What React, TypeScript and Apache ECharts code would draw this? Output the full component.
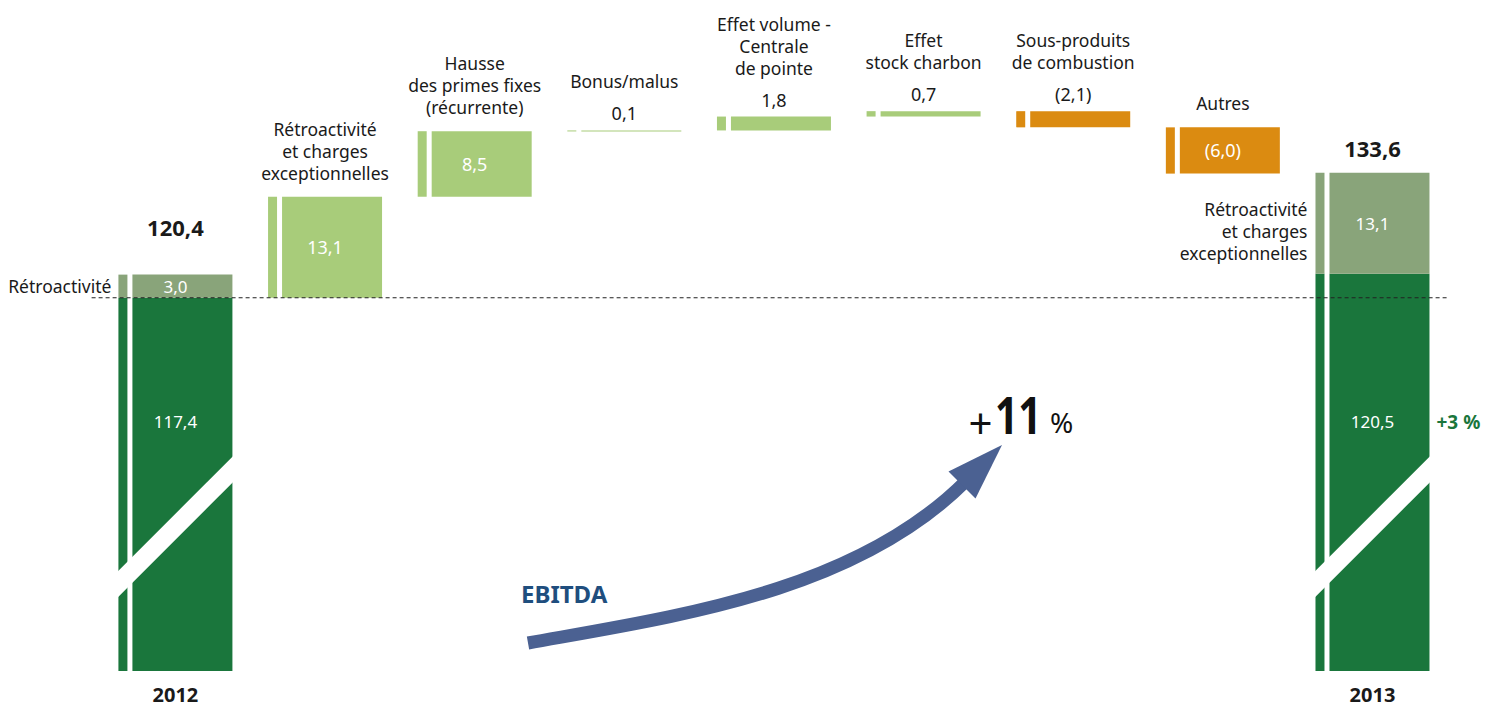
import React, { useEffect, useRef } from 'react';
import * as echarts from 'echarts';

// ---------- data ----------
const categories = [
  '2012',
  'Rétroactivité\net charges\nexceptionnelles',
  'Hausse\ndes primes fixes\n(récurrente)',
  'Bonus/malus',
  'Effet volume -\nCentrale\nde pointe',
  'Effet\nstock charbon',
  'Sous-produits\nde combustion',
  'Autres',
  '2013',
];
const base2012 = 117.4;
const retro2012 = 3.0;
const total2012 = 120.4;
const deltas = [13.1, 8.5, 0.1, 1.8, 0.7, -2.1, -6.0];
const base2013 = 120.5;
const retro2013 = 13.1;
const total2013 = 133.6;
const retroLabel2012 = 'Rétroactivité';
const retroLabel2013 = 'Rétroactivité\net charges\nexceptionnelles';
const growthLabelMain = '11';
const growthLabelRecurring = '+3 %';
const arrowLabel = 'EBITDA';
const yMin = 69;
const yMax = 150;

// ---------- styles ----------
const FONT = "'Noto Sans', 'DejaVu Sans', sans-serif";
const DARK = '#1a763c';
const RETRO = '#89a47a';
const LIGHT = '#a8cc7a';
const ORANGE = '#db8b11';
const TEXT = '#1a1a1a';
const ARROW = '#4b6192';

const fmt = (v: number) => {
  const s = Math.abs(v).toFixed(1).replace('.', ',');
  return v < 0 ? '(' + s + ')' : s;
};

type Seg = {
  idx: number;
  low: number;
  high: number;
  color: string;
  kind: 'base' | 'retro' | 'delta';
  value: number;
};

const segs: Seg[] = [];
segs.push({ idx: 0, low: yMin, high: base2012, color: DARK, kind: 'base', value: base2012 });
segs.push({ idx: 0, low: base2012, high: base2012 + retro2012, color: RETRO, kind: 'retro', value: retro2012 });
let cum = base2012;
deltas.forEach((d, i) => {
  const a = cum;
  const b = cum + d;
  segs.push({
    idx: i + 1,
    low: Math.min(a, b),
    high: Math.max(a, b),
    color: d >= 0 ? LIGHT : ORANGE,
    kind: 'delta',
    value: d,
  });
  cum = b;
});
segs.push({ idx: 8, low: yMin, high: base2013, color: DARK, kind: 'base', value: base2013 });
segs.push({ idx: 8, low: base2013, high: base2013 + retro2013, color: RETRO, kind: 'retro', value: retro2013 });

const txt = (x: number, y: number, text: string, o: any = {}) => ({
  type: 'text',
  x,
  y,
  style: {
    text,
    fill: o.fill || TEXT,
    fontSize: o.size || 17,
    fontFamily: FONT,
    fontWeight: o.weight || 'normal',
    align: o.align || 'center',
    verticalAlign: o.va || 'middle',
    lineHeight: o.lh || 22,
  },
});

export default function App() {
  const ref = useRef<HTMLDivElement>(null);
  useEffect(() => {
    if (!ref.current) return;
    const chart = echarts.init(ref.current, undefined, { renderer: 'svg' });

    const renderBar = (params: any, api: any) => {
      const s = segs[params.dataIndex];
      const top = api.coord([s.idx, s.high]);
      const bot = api.coord([s.idx, s.low]);
      const baseY = api.coord([s.idx, base2012])[1];
      const cx = top[0];
      const yT = top[1];
      const yB = bot[1];
      const h = Math.max(yB - yT, 1);
      const left = cx - 57;
      const children: any[] = [
        { type: 'rect', shape: { x: left, y: yT, width: 9, height: h }, style: { fill: s.color } },
        { type: 'rect', shape: { x: left + 14, y: yT, width: 100, height: h }, style: { fill: s.color } },
      ];
      const mid = (yT + yB) / 2;
      if (s.kind === 'base') {
        const yc = baseY + 229;
        children.push({
          type: 'polygon',
          shape: {
            points: [
              [left - 3, yc + 57 + 3 + 13],
              [left + 117, yc - 57 - 3 + 13],
              [left + 117, yc - 57 - 3 - 13],
              [left - 3, yc + 57 + 3 - 13],
            ],
          },
          style: { fill: '#ffffff' },
        });
        children.push(txt(cx, baseY + 124, fmt(s.value), { fill: '#ffffff', size: 17 }));
        children.push(txt(cx, 694, categories[s.idx], { size: 20, weight: 'bold', lh: 18 }));
        if (s.idx === 8) {
          children.push(
            txt(left + 121, baseY + 124, growthLabelRecurring, { fill: DARK, size: 19, weight: 'bold', align: 'left' })
          );
        }
      } else if (s.kind === 'retro') {
        children.push(txt(cx, mid, fmt(s.value), { fill: '#ffffff', size: 17 }));
        if (s.idx === 0) {
          children.push(txt(cx, yT - 48, fmt(total2012), { size: 22, weight: 'bold' }));
          children.push(txt(left - 7, mid, retroLabel2012, { size: 17.5, align: 'right' }));
        } else {
          children.push(txt(cx, yT - 25, fmt(total2013), { size: 22, weight: 'bold' }));
          children.push(txt(left - 8, mid + 8, retroLabel2013, { size: 17.5, align: 'right' }));
        }
      } else {
        const inside = Math.abs(s.value) >= 5;
        if (inside) {
          children.push(txt(cx, mid, fmt(s.value), { fill: '#ffffff', size: 18 }));
          children.push(txt(cx, yT - 13, categories[s.idx], { size: 17.5, va: 'bottom' }));
        } else {
          children.push(txt(cx, yT - 17, fmt(s.value), { size: 18 }));
          children.push(txt(cx, yT - 38, categories[s.idx], { size: 17.5, va: 'bottom' }));
        }
      }
      return { type: 'group', children };
    };

    const renderBaseline = (params: any, api: any) => {
      const cs = params.coordSys;
      const y = api.coord([0, base2012])[1];
      return {
        type: 'line',
        shape: { x1: cs.x - 9, y1: y, x2: cs.x + cs.width, y2: y },
        style: { stroke: '#222222', lineWidth: 1.2, lineDash: [4, 3] },
      };
    };

    chart.setOption({
      animation: false,
      grid: { left: 100.6, right: 40.7, top: 46.4, bottom: 36.1 },
      xAxis: { type: 'category', data: categories, show: false },
      yAxis: { type: 'value', min: yMin, max: yMax, show: false },
      series: [
        {
          type: 'custom',
          name: 'waterfall',
          renderItem: renderBar,
          encode: { x: 0, y: [1, 2] },
          data: segs.map((s) => [s.idx, s.low, s.high]),
          clip: false,
        },
        {
          type: 'custom',
          name: 'baseline',
          renderItem: renderBaseline,
          encode: { x: 0, y: 1 },
          data: [[0, base2012]],
          clip: false,
        },
      ],
      graphic: [
        {
          type: 'bezierCurve',
          shape: { x1: 528, y1: 643, cpx1: 678, cpy1: 616, cpx2: 855, cpy2: 592, x2: 966, y2: 481 },
          style: { stroke: ARROW, lineWidth: 13, fill: 'none' },
        },
        {
          type: 'polygon',
          shape: { points: [[1002, 445], [975.5, 498.5], [948.5, 471.5]] },
          style: { fill: ARROW },
        },
        {
          type: 'text',
          x: 521,
          y: 593,
          style: { text: arrowLabel, fill: '#1f4e7e', fontSize: 24, fontWeight: 'bold', fontFamily: FONT, verticalAlign: 'middle' },
        },
        {
          type: 'text',
          x: 980.5,
          y: 422,
          style: { text: '+', fill: '#111', fontSize: 42, fontFamily: FONT, align: 'center', verticalAlign: 'middle' },
        },
        {
          type: 'text',
          x: 995,
          y: 414,
          scaleX: 0.78,
          style: { text: growthLabelMain, fill: '#111', fontSize: 52, fontWeight: 'bold', fontFamily: FONT, verticalAlign: 'middle' },
        },
        {
          type: 'text',
          x: 1050,
          y: 422,
          style: { text: '%', fill: '#111', fontSize: 28, fontFamily: FONT, verticalAlign: 'middle' },
        },
      ],
    });
    return () => chart.dispose();
  }, []);
  return <div ref={ref} style={{ position: 'absolute', left: 0, top: 0, width: 1488, height: 707 }} />;
}
